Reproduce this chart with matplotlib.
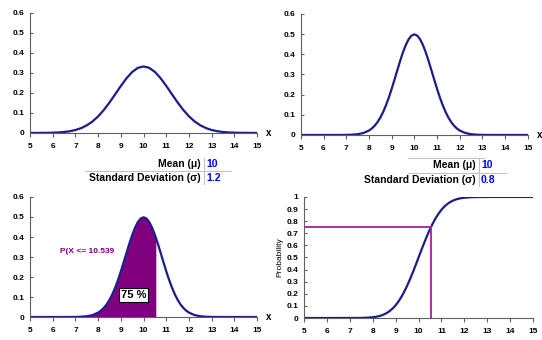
import matplotlib
matplotlib.use("Agg")
import matplotlib.pyplot as plt
from matplotlib.lines import Line2D
from matplotlib.ticker import FuncFormatter

plt.rcParams['font.family'] = ['Liberation Sans', 'DejaVu Sans']
plt.rcParams['font.weight'] = 'bold'

# x grid for the wide curve (step 0.25 from 5 to 15)
x_wide = [5.0, 5.25, 5.5, 5.75, 6.0, 6.25, 6.5, 6.75, 7.0, 7.25, 7.5, 7.75,
          8.0, 8.25, 8.5, 8.75, 9.0, 9.25, 9.5, 9.75, 10.0, 10.25, 10.5, 10.75,
          11.0, 11.25, 11.5, 11.75, 12.0, 12.25, 12.5, 12.75, 13.0, 13.25, 13.5,
          13.75, 14.0, 14.25, 14.5, 14.75, 15.0]

# density, mean 10, sd 1.2
pdf_wide = [0.0001, 0.0001, 0.0003, 0.0006, 0.0013, 0.0025, 0.0047, 0.0085,
            0.0146, 0.0241, 0.0380, 0.0573, 0.0829, 0.1148, 0.1522, 0.1933,
            0.2349, 0.2735, 0.3049, 0.3254, 0.3325, 0.3254, 0.3049, 0.2735,
            0.2349, 0.1933, 0.1522, 0.1148, 0.0829, 0.0573, 0.0380, 0.0241,
            0.0146, 0.0085, 0.0047, 0.0025, 0.0013, 0.0006, 0.0003, 0.0001, 0.0001]

# x grid for the narrow curves (finer near the centre)
x_narrow = [5.0, 5.5, 6.0, 6.5, 7.0, 7.25, 7.5, 7.75, 8.0,
            8.125, 8.25, 8.375, 8.5, 8.625, 8.75, 8.875, 9.0, 9.125, 9.25,
            9.375, 9.5, 9.625, 9.75, 9.875, 10.0, 10.125, 10.25, 10.375, 10.5,
            10.625, 10.75, 10.875, 11.0, 11.125, 11.25, 11.375, 11.5, 11.625,
            11.75, 11.875, 12.0, 12.25, 12.5, 12.75, 13.0, 13.5, 14.0, 14.5, 15.0]

# density, mean 10, sd 0.8
pdf_narrow = [0.0, 0.0, 0.0, 0.0, 0.0004, 0.0014, 0.0038, 0.0096, 0.0219,
              0.0320, 0.0456, 0.0634, 0.0860, 0.1139, 0.1471, 0.1855, 0.2283,
              0.2742, 0.3214, 0.3675, 0.4102, 0.4468, 0.4749, 0.4927, 0.4987,
              0.4927, 0.4749, 0.4468, 0.4102, 0.3675, 0.3214, 0.2742, 0.2283,
              0.1855, 0.1471, 0.1139, 0.0860, 0.0634, 0.0456, 0.0320, 0.0219,
              0.0096, 0.0038, 0.0014, 0.0004, 0.0, 0.0, 0.0, 0.0]

# cumulative, mean 10, sd 0.8
cdf_narrow = [0.0, 0.0, 0.0, 0.0, 0.0001, 0.0003, 0.0009, 0.0025, 0.0062,
              0.0095, 0.0144, 0.0211, 0.0304, 0.0428, 0.0591, 0.0798, 0.1056,
              0.1370, 0.1743, 0.2173, 0.2660, 0.3196, 0.3773, 0.4379, 0.5,
              0.5621, 0.6227, 0.6804, 0.7340, 0.7827, 0.8257, 0.8630, 0.8944,
              0.9202, 0.9409, 0.9572, 0.9696, 0.9789, 0.9856, 0.9905, 0.9938,
              0.9975, 0.9991, 0.9997, 0.9999, 1.0, 1.0, 1.0, 1.0]

cut_x = 10.539
cut_pdf = 0.397
cut_prob = 0.75

mean_txt = "10"
sd_wide_txt = "1.2"
sd_narrow_txt = "0.8"

navy = "#1c1c8a"
purple = "#800080"
magenta = "#a020a0"

fig = plt.figure(figsize=(5.42, 3.40), dpi=100)


def style(ax, ymax, ystep, xlab=True):
    ax.set_xlim(5, 15)
    ax.set_ylim(0, ymax)
    ax.set_xticks(range(5, 16))
    ax.set_yticks([round(i * ystep, 2) for i in range(int(round(ymax / ystep)) + 1)])
    ax.yaxis.set_major_formatter(FuncFormatter(lambda v, p: f"{v:g}"))
    for s in ["top", "right"]:
        ax.spines[s].set_visible(False)
    for s in ["left", "bottom"]:
        ax.spines[s].set_color("#606060")
        ax.spines[s].set_linewidth(0.8)
    ax.tick_params(axis="x", direction="out", length=3, labelsize=6, pad=4, color="#606060")
    ax.tick_params(axis="y", direction="in", length=2.5, labelsize=6, pad=4, color="#606060")
    if xlab:
        ax.text(1.05, 0.0, "x", transform=ax.transAxes, fontsize=7, ha="center", va="center")


ax1 = fig.add_axes([0.0554, 0.609, 0.419, 0.353])
ax1.plot(x_wide, pdf_wide, color=navy, lw=1.6)
style(ax1, 0.6, 0.1)

ax2 = fig.add_axes([0.555, 0.603, 0.419, 0.356])
ax2.plot(x_narrow, pdf_narrow, color=navy, lw=1.6)
style(ax2, 0.6, 0.1)

ax3 = fig.add_axes([0.0554, 0.0676, 0.419, 0.353])
fx = [x for x in x_narrow if x <= cut_x] + [cut_x]
fy = [y for x, y in zip(x_narrow, pdf_narrow) if x <= cut_x] + [cut_pdf]
ax3.fill_between(fx, 0, fy, color=purple, lw=0)
ax3.plot(x_narrow, pdf_narrow, color=navy, lw=1.6)
ax3.text(6.3, 0.33, "P(X <= " + str(cut_x), color=purple, fontsize=6, va="center")
ax3.text(9.55, 0.11, f"{int(cut_prob * 100)} %", fontsize=8, ha="center", va="center",
         bbox=dict(facecolor="white", edgecolor="black", lw=0.8, pad=1.2))
style(ax3, 0.6, 0.1)

ax4 = fig.add_axes([0.561, 0.0647, 0.4225, 0.356])
ax4.plot(x_narrow, cdf_narrow, color=navy, lw=1.6)
ax4.plot([5, cut_x], [cut_prob, cut_prob], color=magenta, lw=1.3)
ax4.plot([cut_x, cut_x], [0, cut_prob], color=magenta, lw=1.3)
ax4.set_ylabel("Probability", fontsize=6, labelpad=2)
style(ax4, 1.0, 0.1, xlab=False)


# parameter boxes under the top charts
def param_box(xv, y_mean, y_sd, x_left, sd_txt):
    fs = 7.5
    fig.text(xv / 542, 1 - y_mean / 340, "Mean (\u03bc)", fontsize=fs, ha="right", va="center")
    fig.text((xv + 5) / 542, 1 - y_mean / 340, mean_txt, fontsize=fs, color="#0000ff", va="center")
    fig.text(xv / 542, 1 - y_sd / 340, "Standard Deviation (\u03c3)", fontsize=fs, ha="right", va="center")
    fig.text((xv + 5) / 542, 1 - y_sd / 340, sd_txt, fontsize=fs, color="#0000ff", va="center")
    mid = (y_mean + y_sd) / 2
    fig.add_artist(Line2D([x_left / 542, (xv + 30) / 542], [1 - mid / 340] * 2,
                          color="#c0c0c0", lw=0.7))
    fig.add_artist(Line2D([(xv + 2.5) / 542] * 2, [1 - (y_mean - 6) / 340, 1 - (y_sd + 6) / 340],
                          color="#c0c0c0", lw=0.7))


param_box(201, 164, 178, 85, sd_wide_txt)
param_box(476, 165, 180, 408, sd_narrow_txt)
fig.add_artist(Line2D([408 / 542, 484 / 542], [1 - 158 / 340] * 2, color="#c0c0c0", lw=0.7))

fig.savefig("out.png", dpi=100)
